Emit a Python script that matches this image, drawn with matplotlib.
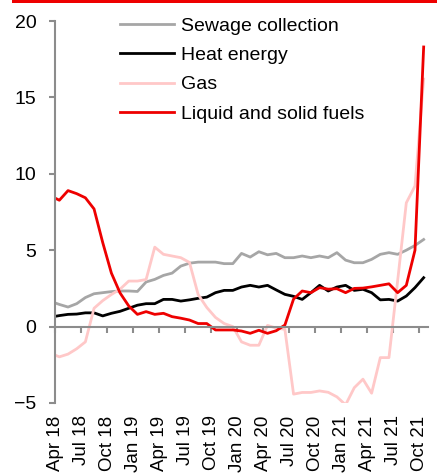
import matplotlib
matplotlib.use("Agg")
import matplotlib.pyplot as plt
from matplotlib.patches import Rectangle

plt.rcParams["font.family"] = ["Liberation Sans", "DejaVu Sans"]

# ------------- DATA (monthly, Apr 18 .. Nov 21) -------------
tick_labels = ["Apr 18", "Jul 18", "Oct 18", "Jan 19", "Apr 19", "Jul 19",
               "Oct 19", "Jan 20", "Apr 20", "Jul 20", "Oct 20", "Jan 21",
               "Apr 21", "Jul 21", "Oct 21"]

sewage = [1.65, 1.45, 1.28, 1.5, 1.9, 2.15, 2.22, 2.29, 2.33, 2.33,
          2.3, 2.92, 3.09, 3.35, 3.5, 3.96, 4.15, 4.22, 4.22, 4.22,
          4.12, 4.12, 4.79, 4.55, 4.9, 4.7, 4.79, 4.51, 4.51, 4.62,
          4.51, 4.62, 4.51, 4.84, 4.35, 4.18, 4.18, 4.4, 4.73, 4.84,
          4.73, 5.0, 5.31, 5.7]

heat = [0.62, 0.72, 0.8, 0.82, 0.9, 0.9, 0.7, 0.87, 1.0, 1.2,
        1.4, 1.5, 1.5, 1.78, 1.78, 1.67, 1.75, 1.85, 1.93, 2.22,
        2.37, 2.37, 2.59, 2.7, 2.59, 2.7, 2.4, 2.11, 1.98, 1.78,
        2.22, 2.7, 2.33, 2.59, 2.7, 2.37, 2.44, 2.22, 1.75, 1.78,
        1.67, 2.0, 2.55, 3.2]

gas = [-1.75, -1.98, -1.8, -1.45, -1.0, 1.2, 1.7, 2.1, 2.45, 2.98,
       2.98, 3.08, 5.2, 4.73, 4.62, 4.51, 4.2, 2.1, 1.25, 0.6,
       0.2, 0.0, -1.0, -1.22, -1.22, 0.08, -0.1, -0.18, -4.42, -4.31,
       -4.31, -4.21, -4.3, -4.6, -5.12, -4.0, -3.44, -4.36, -2.03, -2.03,
       3.0, 8.1, 9.2, 16.2]

fuels = [8.55, 8.27, 8.9, 8.7, 8.43, 7.7, 5.5, 3.5, 2.2, 1.35,
         0.8, 0.98, 0.8, 0.87, 0.65, 0.55, 0.43, 0.2, 0.2, -0.22,
         -0.22, -0.22, -0.29, -0.44, -0.24, -0.44, -0.27, 0.1, 1.8, 2.33,
         2.22, 2.55, 2.45, 2.48, 2.22, 2.5, 2.52, 2.6, 2.7, 2.8,
         2.22, 2.7, 5.0, 18.3]
# -------------------------------------------------------------

AXIS_GREY = "#8c8c8c"

x = list(range(len(sewage)))
tick_pos = [3 * k + 0.5 for k in range(len(tick_labels))]

fig = plt.figure(figsize=(4.37, 4.73), dpi=100)
ax = fig.add_axes([0.1259, 0.148, 0.8535, 0.8076])

ax.plot(x, sewage, color="#a6a6a6", lw=2.0, label="Sewage collection")
ax.plot(x, heat, color="black", lw=2.0, label="Heat energy")
ax.plot(x, gas, color="#ffc8c8", lw=2.0, label="Gas")
ax.plot(x, fuels, color="#ee0000", lw=2.0, label="Liquid and solid fuels")

ax.set_xlim(0.5, 43.5)
ax.set_ylim(-5, 20)
ax.set_yticks([-5, 0, 5, 10, 15, 20])

for side in ("top", "right"):
    ax.spines[side].set_visible(False)
ax.spines["left"].set_color(AXIS_GREY)
ax.spines["left"].set_linewidth(1.5)
ax.spines["bottom"].set_color(AXIS_GREY)
ax.spines["bottom"].set_linewidth(1.5)
ax.spines["bottom"].set_position(("data", 0))

ax.set_xticks(tick_pos)
ax.tick_params(axis="x", direction="out", length=4, width=1.5,
               color=AXIS_GREY, labelbottom=False)
ax.tick_params(axis="y", direction="out", length=4.5, width=1.5,
               color=AXIS_GREY, pad=9, labelsize=14)

# month labels sit under the plot, not at the zero line
sec = ax.secondary_xaxis("bottom")
sec.set_xticks(tick_pos, tick_labels, rotation=90, fontsize=13.5)
sec.tick_params(length=0, pad=9)
sec.spines["bottom"].set_visible(False)

ax.legend(loc="upper left", bbox_to_anchor=(0.174, 1.01), frameon=False,
          fontsize=14, handlelength=2.8, handletextpad=0.36,
          labelspacing=0.6, borderpad=0, borderaxespad=0)

# red rule across the top of the figure
fig.add_artist(Rectangle((12 / 437, 1 - 3 / 473), 1, 3 / 473,
                         transform=fig.transFigure, color="#ee0000", lw=0))

fig.savefig("out.png", dpi=100)
